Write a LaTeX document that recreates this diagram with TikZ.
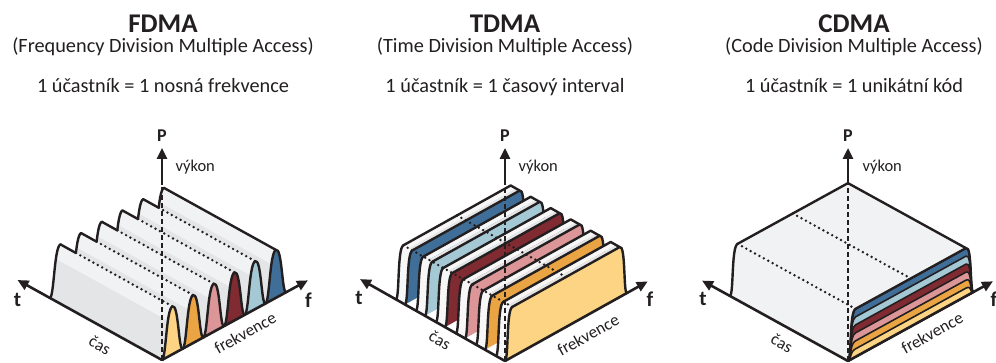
\documentclass[tikz,border=0pt]{standalone}
\usepackage{fontspec}
\setmainfont{Carlito}
\usetikzlibrary{arrows.meta,intersections}
\definecolor{cyellow}{HTML}{FCD483}
\definecolor{corange}{HTML}{EAA443}
\definecolor{cpink}{HTML}{DC9698}
\definecolor{cdred}{HTML}{7F2B31}
\definecolor{clblue}{HTML}{A4C9D5}
\definecolor{cblue}{HTML}{3F6F98}
\definecolor{lightface}{HTML}{F1F2F3}
\definecolor{darkface}{HTML}{E4E5E6}
\definecolor{finface}{HTML}{F7F7F8}
\definecolor{ink}{HTML}{231F20}
\tikzset{
  edge/.style={draw=ink, line width=2.4pt, line join=round, line cap=round},
  axisline/.style={draw=ink, line width=2.6pt, -{Triangle[length=11pt,width=10pt]}},
  guide/.style={draw=ink, line width=2.7pt, line cap=round, dash pattern=on 0pt off 5pt},
  paxis/.style={draw=ink, line width=2.2pt, dash pattern=on 5pt off 3pt},
  title/.style={font=\fontsize{27}{30}\selectfont\bfseries, text=ink, anchor=base},
  subtitle/.style={font=\fontsize{20.3}{23}\selectfont, text=ink, anchor=base},
  axlabel/.style={font=\fontsize{21}{24}\selectfont\bfseries, text=ink, anchor=base},
  plabel/.style={font=\fontsize{18}{20}\selectfont\bfseries, text=ink, anchor=base},
  vlabel/.style={font=\fontsize{16.5}{19}\selectfont, text=ink, anchor=base west},
  alonglabel/.style={font=\fontsize{17}{19}\selectfont, text=ink, inner sep=1pt},
}
\begin{document}
\begin{tikzpicture}[x=1pt,y=1pt]
\useasboundingbox (0,0) rectangle (996,363);

% ---------- headings ----------
\node[title]    (h1) at (163,330) {FDMA};
\node[subtitle] (s1) at (163,310) {(Frequency Division Multiple Access)};
\node[subtitle] (r1) at (163,270) {1 účastník = 1 nosná frekvence};
\node[title]    (h2) at (505,330) {TDMA};
\node[subtitle] (s2) at (505,310) {(Time Division Multiple Access)};
\node[subtitle] (r2) at (505,270) {1 účastník = 1 časový interval};
\node[title]    (h3) at (854,330) {CDMA};
\node[subtitle] (s3) at (854,310) {(Code Division Multiple Access)};
\node[subtitle] (r3) at (854,270) {1 účastník = 1 unikátní kód};

% ---------- FDMA: six carriers as ridges along time ----------
\begin{scope}[shift={(162pt,3pt)}, x={(20.7pt,11.3pt)}, y={(0pt,48pt)}, z={(-112pt,62pt)}]
  \foreach \k/\c in {5/cblue,4/clblue,3/cdred,2/cpink,1/corange,0/cyellow}{
    \fill[lightface] (\k,0,1) .. controls (\k+.2,0,1) and (\k+.2,1,1) .. (\k+.5,1,1)
       -- (\k+.5,1,0) .. controls (\k+.8,1,0) and (\k+.8,0,0) .. (\k+1,0,0) -- (\k,0,0) -- cycle;
    \fill[darkface] (\k,0,1) .. controls (\k+.14,0,1) and (\k+.18,.45,1) .. (\k+.28,.75,1)
       -- (\k+.28,.75,0) .. controls (\k+.18,.45,0) and (\k+.14,0,0) .. (\k,0,0) -- cycle;
    \draw[edge] (\k,0,1) .. controls (\k+.2,0,1) and (\k+.2,1,1) .. (\k+.5,1,1);
    \draw[edge, fill=\c] (\k,0,0) .. controls (\k+.2,0,0) and (\k+.2,1,0) .. (\k+.5,1,0)
       .. controls (\k+.8,1,0) and (\k+.8,0,0) .. (\k+1,0,0);
  }
  % crest lines: solid while on the outline, dotted across the surface
  \foreach \k in {0,...,4}{
    \path[name path=back\k] (\k+1,0,1) .. controls (\k+1.2,0,1) and (\k+1.2,1,1) .. (\k+1.5,1,1);
    \path[name path=crest\k] (\k+.5,1,1) -- (\k+.5,1,0);
    \path[name intersections={of={back\k} and {crest\k}, by={fv\k}}];
    \draw[edge] (\k+.5,1,1) -- (fv\k);
    \draw[guide] (fv\k) -- (\k+.5,1,0);
  }
  \draw[edge] (5.5,1,1) -- (5.5,1,0);
  \coordinate (fO) at (0,0,0);
  \coordinate (fT) at (0,0,1.29);
  \coordinate (fF) at (7.05,0,0);
\end{scope}
\coordinate (fTop) at (162,178);
\coordinate (fP) at (162,215);
\draw[paxis] (fO) -- (fTop);
\draw[axisline] (fTop) -- (fP);
\draw[axisline] (fO) -- (fT);
\draw[axisline] (fO) -- (fF);
\node[plabel] (fPl) at (162,221) {P};
\node[vlabel] (fVl) at (172,191) {výkon};
\node[axlabel] (fTl) at (17.5,56) {t};
\node[axlabel] (fFl) at (308.5,55) {f};
\node[alonglabel, rotate=-29] (fCl) at (100,18) {čas};
\node[alonglabel, rotate=29] (fKl) at (245,30) {frekvence};

% ---------- TDMA: six time slots as slabs ----------
\begin{scope}[shift={(505pt,2pt)}, x={(122pt,68pt)}, y={(0pt,50pt)}, z={(-20pt,11.3pt)}]
  \foreach \k/\c in {5/cblue,4/clblue,3/cdred,2/cpink,1/corange,0/cyellow}{
    \fill[finface] (0,0,\k) .. controls (0.03,0,\k) and (0.01,1,\k) .. (0.06,1,\k)
       -- (0.06,1,\k+.45) .. controls (0.01,1,\k+.45) and (0.03,0,\k+.45) .. (0,0,\k+.45) -- cycle;
    \fill[finface] (0.06,1,\k+.18) -- (0.94,1,\k+.18) -- (0.94,1,\k+.45) -- (0.06,1,\k+.45) -- cycle;
    \fill[darkface] (0.06,1,\k) -- (0.94,1,\k) -- (0.94,1,\k+.18) -- (0.06,1,\k+.18) -- cycle;
    \draw[edge] (0,0,\k+.45) .. controls (0.03,0,\k+.45) and (0.01,1,\k+.45) .. (0.06,1,\k+.45)
       -- (0.94,1,\k+.45) -- (0.94,1,\k);
    \draw[edge, fill=\c] (0,0,\k) .. controls (0.03,0,\k) and (0.01,1,\k) .. (0.06,1,\k)
       -- (0.94,1,\k) .. controls (0.99,1,\k) and (0.97,0,\k) .. (1,0,\k);
  }
  \draw[guide] (0.06,1,5.45) -- (0.06,1,0);
  \draw[guide] (0.5,1,5.45) -- (0.5,1,0);
  \coordinate (tO) at (0,0,0);
  \coordinate (tT) at (0,0,7.25);
  \coordinate (tF) at (1.17,0,0);
\end{scope}
\coordinate (tTop) at (505,181);
\coordinate (tP) at (505,215);
\draw[paxis] (tO) -- (tTop);
\draw[axisline] (tTop) -- (tP);
\draw[axisline] (tO) -- (tT);
\draw[axisline] (tO) -- (tF);
\node[plabel] (tPl) at (505,221) {P};
\node[vlabel] (tVl) at (515,191) {výkon};
\node[axlabel] (tTl) at (359,58) {t};
\node[axlabel] (tFl) at (650,56) {f};
\node[alonglabel, rotate=-29] (tCl) at (440,23) {čas};
\node[alonglabel, rotate=29] (tKl) at (588,28) {frekvence};

% ---------- CDMA: one block, codes stacked in power ----------
\begin{scope}[shift={(848pt,2pt)}, x={(125.5pt,69pt)}, y={(0pt,48pt)}, z={(-118pt,65pt)}]
  \fill[lightface] (0,0,0) -- (0,0,1) .. controls (0.03,0,1) and (0.01,1,1) .. (0.06,1,1)
     -- (0.94,1,1) -- (0.94,1,0) -- (0.06,1,0) .. controls (0.01,1,0) and (0.03,0,0) .. (0,0,0) -- cycle;
  \draw[guide] (0.06,1,1) -- (0.06,1,0);
  \draw[guide] (0.5,1,1) -- (0.5,1,0);
  \foreach \i/\c in {6/cblue,5/clblue,4/cdred,3/cpink,2/corange,1/cyellow}{
    \draw[draw=ink, line width=1.6pt, line join=round, fill=\c]
      (0,0,0) .. controls (0.03,0,0) and (0.01,\i/6,0) .. (0.06,\i/6,0)
      -- (0.94,\i/6,0) .. controls (0.99,\i/6,0) and (0.97,0,0) .. (1,0,0) -- cycle;
  }
  \draw[edge] (0,0,0) .. controls (0.03,0,0) and (0.01,1,0) .. (0.06,1,0)
     -- (0.94,1,0) .. controls (0.99,1,0) and (0.97,0,0) .. (1,0,0);
  \draw[edge] (0,0,1) .. controls (0.03,0,1) and (0.01,1,1) .. (0.06,1,1)
     -- (0.94,1,1) -- (0.94,1,0);
  \coordinate (cO) at (0,0,0);
  \coordinate (cT) at (0,0,1.237);
  \coordinate (cF) at (1.155,0,0);
\end{scope}
\coordinate (cTop) at (848,181);
\coordinate (cP) at (848,215);
\draw[paxis] (cO) -- (cTop);
\draw[axisline] (cTop) -- (cP);
\draw[axisline] (cO) -- (cT);
\draw[axisline] (cO) -- (cF);
\node[plabel] (cPl) at (848,221) {P};
\node[vlabel] (cVl) at (859,191) {výkon};
\node[axlabel] (cTl) at (703,57) {t};
\node[axlabel] (cFl) at (994,56) {f};
\node[alonglabel, rotate=-29] (cCl) at (782,20) {čas};
\node[alonglabel, rotate=29] (cKl) at (932,30) {frekvence};
\end{tikzpicture}
\end{document}
